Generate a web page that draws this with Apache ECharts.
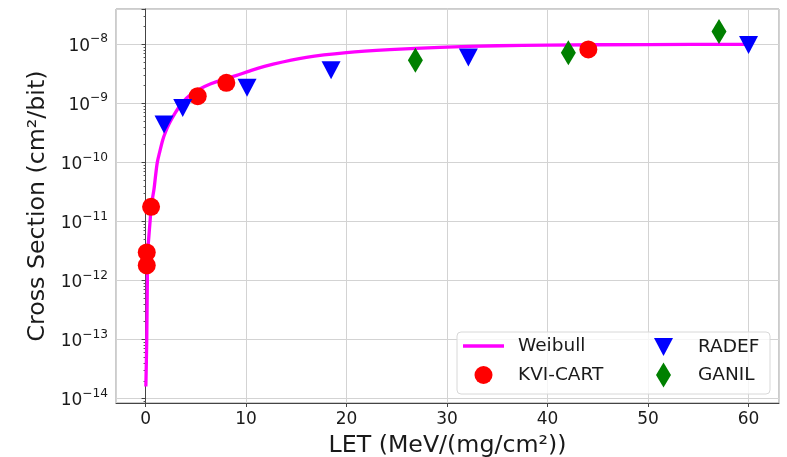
<!DOCTYPE html>
<html>
<head>
<meta charset="utf-8">
<script src="https://cdn.jsdelivr.net/npm/echarts@6/dist/echarts.min.js"></script>
<style>
  html, body { margin: 0; padding: 0; background: #fff; }
  #chart { width: 787px; height: 457px; }
</style>
</head>
<body>
<div id="chart"></div>
<script>
// Weibull fit
const weibullLet = [0.03, 0.12, 0.18, 0.22, 0.38, 0.45, 0.55, 0.7, 0.85, 1.0, 1.17, 1.4, 1.71, 2.0, 2.37, 3.0, 3.6, 4.43, 5.5, 6.5, 7.6, 9.0, 10.4, 12.7, 16, 20, 24.3, 29.3, 35, 40, 50, 60];
const weibullXs = [1.6e-14, 1e-13, 1e-12, 3e-12, 7.1e-12, 1e-11, 1.66e-11, 2.5e-11, 3.6e-11, 6e-11, 1e-10, 1.48e-10, 2.4e-10, 3.3e-10, 4.6e-10, 7.1e-10, 1e-9, 1.38e-9, 1.78e-9, 2.14e-9, 2.5e-9, 2.95e-9, 3.55e-9, 4.6e-9, 6.0e-9, 7.2e-9, 8.1e-9, 8.9e-9, 9.45e-9, 9.7e-9, 9.9e-9, 9.97e-9];

// measured points
const kviLet = [0.12, 0.12, 0.55, 5.19, 8.04, 44.06];
const kviXs = [2.98e-12, 1.8e-12, 1.77e-11, 1.32e-9, 2.23e-9, 8.2e-9];

const radefLet = [1.84, 3.7, 10.1, 18.46, 32.12, 60.0];
const radefXs = [4.4e-10, 8.3e-10, 1.83e-9, 3.64e-9, 5.97e-9, 9.7e-9];

const ganilLet = [26.85, 42.07, 57.06];
const ganilXs = [5.37e-9, 7.17e-9, 1.64e-8];

const xMin = -2.94, xMax = 63.03;
const yMin = 8.41e-15, yMax = 3.96e-8;

const font = 'DejaVu Sans';
const textColor = '#1a1a1a';

const lineIcon = 'path://M0,0L41,0L41,3.3L0,3.3Z';
const downTriangle = 'path://M0,0L19,0L9.5,18Z';
const diamond = 'path://M7.5,0L15,12.5L7.5,25L0,12.5Z';

function pairs(xs, ys) {
  return xs.map((x, i) => [x, ys[i]]);
}

const chart = echarts.init(document.getElementById('chart'));

chart.setOption({
  animation: false,
  grid: {
    left: 116, right: 8, top: 9, bottom: 54,
    outerBoundsMode: 'none',
    containLabel: false,
    show: true, borderColor: '#999', borderWidth: 1
  },
  xAxis: {
    type: 'value',
    min: xMin, max: xMax,
    splitNumber: 5,
    name: 'LET (MeV/(mg/cm²))',
    nameLocation: 'middle',
    nameGap: 31,
    nameTextStyle: { fontFamily: font, fontSize: 23.7, color: textColor },
    axisLine: { lineStyle: { color: '#444', width: 1 } },
    axisTick: { show: true, length: 4, lineStyle: { color: '#444' } },
    axisLabel: {
      fontFamily: font, fontSize: 17, color: textColor, margin: 8,
      showMinLabel: false, showMaxLabel: false,
      formatter: v => (Math.abs(v % 10) < 1e-6 ? String(v) : '')
    },
    splitLine: { show: true, lineStyle: { color: '#d3d3d3', width: 1 } }
  },
  yAxis: {
    type: 'log',
    logBase: 10,
    min: yMin, max: yMax,
    name: 'Cross Section (cm²/bit)',
    nameLocation: 'middle',
    nameGap: 61,
    nameTextStyle: { fontFamily: font, fontSize: 23.7, color: textColor },
    axisLine: { show: true, lineStyle: { color: '#444', width: 1 } },
    axisTick: { show: true, length: 4, lineStyle: { color: '#444' } },
    minorTick: { show: true, splitNumber: 9, length: 2, lineStyle: { color: '#555' } },
    axisLabel: {
      fontFamily: font, fontSize: 17, color: textColor, margin: 8,
      showMinLabel: false, showMaxLabel: false,
      formatter: function (v) {
        const lg = Math.log10(v);
        const e = Math.round(lg);
        if (Math.abs(lg - e) > 1e-6) return '';
        return '{b|10}{s|−' + (-e) + '}';
      },
      rich: {
        b: { fontFamily: font, fontSize: 17, color: textColor, lineHeight: 22, verticalAlign: 'bottom' },
        s: { fontFamily: font, fontSize: 12.2, color: textColor, lineHeight: 22, verticalAlign: 'top', padding: [0, 0, 11, 0] }
      }
    },
    splitLine: { show: true, lineStyle: { color: '#d3d3d3', width: 1 } }
  },
  legend: [
    {
      data: [{ name: 'Weibull', icon: lineIcon }, 'KVI-CART'],
      orient: 'vertical',
      left: 457, top: 332,
      padding: [4, 160, 9, 6],
      itemWidth: 41, itemHeight: 18, itemGap: 9,
      backgroundColor: 'rgba(255,255,255,0.8)',
      borderColor: '#d8d8d8', borderWidth: 1, borderRadius: 4,
      textStyle: { fontFamily: font, fontSize: 18.5, color: textColor, lineHeight: 20, width: 92, padding: [0, 0, 0, 9] }
    },
    {
      data: [{ name: 'RADEF', icon: downTriangle }],
      orient: 'vertical',
      left: 654, top: 337,
      padding: 0, z: 5,
      itemWidth: 41, itemHeight: 18,
      textStyle: { fontFamily: font, fontSize: 18.5, color: textColor, lineHeight: 20, padding: [0, 0, 0, 9] }
    },
    {
      data: [{ name: 'GANIL', icon: diamond }],
      orient: 'vertical',
      left: 656, top: 362.5,
      padding: 0, z: 5,
      itemWidth: 41, itemHeight: 25,
      textStyle: { fontFamily: font, fontSize: 18.5, color: textColor, lineHeight: 20, padding: [0, 0, 0, 9] }
    }
  ],
  series: [
    {
      name: 'Weibull',
      type: 'line',
      data: pairs(weibullLet, weibullXs),
      showSymbol: false,
      symbol: 'none',
      smooth: 0.3,
      lineStyle: { color: '#ff00ff', width: 3.3 },
      itemStyle: { color: '#ff00ff' },
      z: 1
    },
    {
      name: 'KVI-CART',
      type: 'scatter',
      data: pairs(kviLet, kviXs),
      symbol: 'circle',
      symbolSize: 18,
      itemStyle: { color: '#ff0000', opacity: 1 },
      z: 3
    },
    {
      name: 'RADEF',
      type: 'scatter',
      data: pairs(radefLet, radefXs),
      symbol: 'triangle',
      symbolRotate: 180,
      symbolSize: [19, 18],
      itemStyle: { color: '#0000ff', opacity: 1 },
      z: 3
    },
    {
      name: 'GANIL',
      type: 'scatter',
      data: pairs(ganilLet, ganilXs),
      symbol: 'diamond',
      symbolSize: [15, 25],
      itemStyle: { color: '#008000', opacity: 1 },
      z: 3
    }
  ]
});
</script>
</body>
</html>
